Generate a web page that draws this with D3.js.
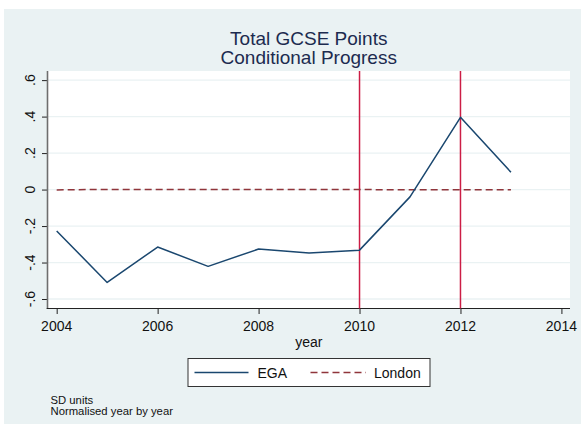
<!DOCTYPE html>
<html>
<head>
<meta charset="utf-8">
<script src="https://cdn.jsdelivr.net/npm/d3@7"></script>
<style>
  html, body { margin: 0; padding: 0; background: #ffffff; }
  svg { display: block; font-family: "Liberation Sans", Arial, sans-serif; }
</style>
</head>
<body>
<svg id="chart" width="581" height="426"></svg>
<script>
// Series data
const years = [2004, 2005, 2006, 2007, 2008, 2009, 2010, 2011, 2012, 2013];
const egaValues = [-0.227, -0.509, -0.315, -0.421, -0.326, -0.348, -0.332, -0.040, 0.396, 0.095];
const londonValues = [-0.002, 0.001, 0.001, 0.001, 0.001, 0.001, 0.000, -0.001, -0.001, -0.001];
const markerYears = [2010, 2012];

// Axis ticks and labels
const xTicks = [2004, 2006, 2008, 2010, 2012, 2014];
const yTicks = [-0.6, -0.4, -0.2, 0, 0.2, 0.4, 0.6];
const yTickLabels = ["-.6", "-.4", "-.2", "0", ".2", ".4", ".6"];
const titleLines = ["Total GCSE Points", "Conditional Progress"];
const xAxisTitle = "year";
const legendLabels = ["EGA", "London"];
const noteLines = ["SD units", "Normalised year by year"];

const svg = d3.select("#chart");
const W = 581, H = 426;
const plot = { left: 47.5, right: 570, top: 71, bottom: 308.5 };

const colors = {
  region: "#eaf2f3",
  grid: "#eaf2f3",
  ega: "#1a476f",
  london: "#90353b",
  marker: "#cc1d45",
  title: "#1c2b4f",
  text: "#111111"
};

const x = d3.scaleLinear().domain([2003.818, 2014.17]).range([plot.left, plot.right]);
const y = d3.scaleLinear().domain([-0.652, 0.65]).range([plot.bottom, plot.top]);

// Graph region background
svg.append("rect").attr("x", 4).attr("y", 9).attr("width", W - 4).attr("height", H - 11)
  .attr("fill", colors.region);

// Plot region
svg.append("rect").attr("x", plot.left).attr("y", plot.top)
  .attr("width", plot.right - plot.left).attr("height", plot.bottom - plot.top)
  .attr("fill", "#ffffff");

// Horizontal gridlines
svg.append("g").selectAll("line").data(yTicks).join("line")
  .attr("x1", plot.left).attr("x2", plot.right)
  .attr("y1", d => y(d)).attr("y2", d => y(d))
  .attr("stroke", colors.grid).attr("stroke-width", 1.3);

// Y axis
const yAxis = d3.axisLeft(y).tickValues(yTicks).tickSize(5.5).tickFormat("");
const gy = svg.append("g").attr("transform", `translate(${plot.left},0)`).call(yAxis);
gy.select(".domain").remove();
gy.selectAll(".tick line").attr("stroke", "#222").attr("stroke-width", 1);
svg.append("line").attr("x1", plot.left).attr("x2", plot.left)
  .attr("y1", plot.top).attr("y2", plot.bottom + 0.5)
  .attr("stroke", "#6e6e6e").attr("stroke-width", 1.6);

svg.append("g").selectAll("text").data(yTicks).join("text")
  .attr("transform", d => `translate(35,${y(d)}) rotate(-90)`)
  .attr("text-anchor", "middle")
  .attr("font-size", 14).attr("fill", colors.text)
  .text((d, i) => yTickLabels[i]);

// X axis
const xAxis = d3.axisBottom(x).tickValues(xTicks).tickSize(5.5).tickFormat("");
const gx = svg.append("g").attr("transform", `translate(0,${plot.bottom})`).call(xAxis);
gx.select(".domain").remove();
gx.selectAll(".tick line").attr("stroke", "#222").attr("stroke-width", 1);
svg.append("line").attr("x1", plot.left - 0.8).attr("x2", plot.right)
  .attr("y1", plot.bottom).attr("y2", plot.bottom)
  .attr("stroke", "#222").attr("stroke-width", 1.1);

svg.append("g").selectAll("text").data(xTicks).join("text")
  .attr("x", d => x(d)).attr("y", 331)
  .attr("text-anchor", "middle")
  .attr("font-size", 14).attr("fill", colors.text)
  .text(d => d);

svg.append("text").attr("x", (plot.left + plot.right) / 2).attr("y", 346.5)
  .attr("text-anchor", "middle").attr("font-size", 14).attr("fill", colors.text)
  .text(xAxisTitle);

// Reference lines at selected years
svg.append("g").selectAll("line").data(markerYears).join("line")
  .attr("x1", d => x(d)).attr("x2", d => x(d))
  .attr("y1", plot.top).attr("y2", plot.bottom)
  .attr("stroke", colors.marker).attr("stroke-width", 1.5);

// Series lines
const line = d3.line().x(d => x(d[0])).y(d => y(d[1]));

svg.append("path")
  .datum(years.map((yr, i) => [yr, londonValues[i]]))
  .attr("d", line).attr("fill", "none")
  .attr("stroke", colors.london).attr("stroke-width", 1.5)
  .attr("stroke-dasharray", "7,4");

svg.append("path")
  .datum(years.map((yr, i) => [yr, egaValues[i]]))
  .attr("d", line).attr("fill", "none")
  .attr("stroke", colors.ega).attr("stroke-width", 1.5)
  .attr("stroke-linejoin", "round");

// Title
svg.append("g").selectAll("text").data(titleLines).join("text")
  .attr("x", (plot.left + plot.right) / 2)
  .attr("y", (d, i) => 45 + i * 19)
  .attr("text-anchor", "middle")
  .attr("font-size", 19).attr("fill", colors.title)
  .text(d => d);

// Legend
const lg = svg.append("g");
lg.append("rect").attr("x", 188).attr("y", 358.5).attr("width", 242).attr("height", 28)
  .attr("fill", "#ffffff").attr("stroke", "#333").attr("stroke-width", 1);
lg.append("line").attr("x1", 194.5).attr("x2", 248.5).attr("y1", 372.5).attr("y2", 372.5)
  .attr("stroke", colors.ega).attr("stroke-width", 1.5);
lg.append("text").attr("x", 257.5).attr("y", 378).attr("font-size", 14).attr("fill", colors.text)
  .text(legendLabels[0]);
lg.append("line").attr("x1", 310.5).attr("x2", 366).attr("y1", 372.5).attr("y2", 372.5)
  .attr("stroke", colors.london).attr("stroke-width", 1.5).attr("stroke-dasharray", "7,4");
lg.append("text").attr("x", 374).attr("y", 378).attr("font-size", 14).attr("fill", colors.text)
  .text(legendLabels[1]);

// Notes
svg.append("g").selectAll("text").data(noteLines).join("text")
  .attr("x", 50.5).attr("y", (d, i) => 404 + i * 11.3)
  .attr("font-size", 11.3).attr("fill", colors.text)
  .text(d => d);
</script>
</body>
</html>
